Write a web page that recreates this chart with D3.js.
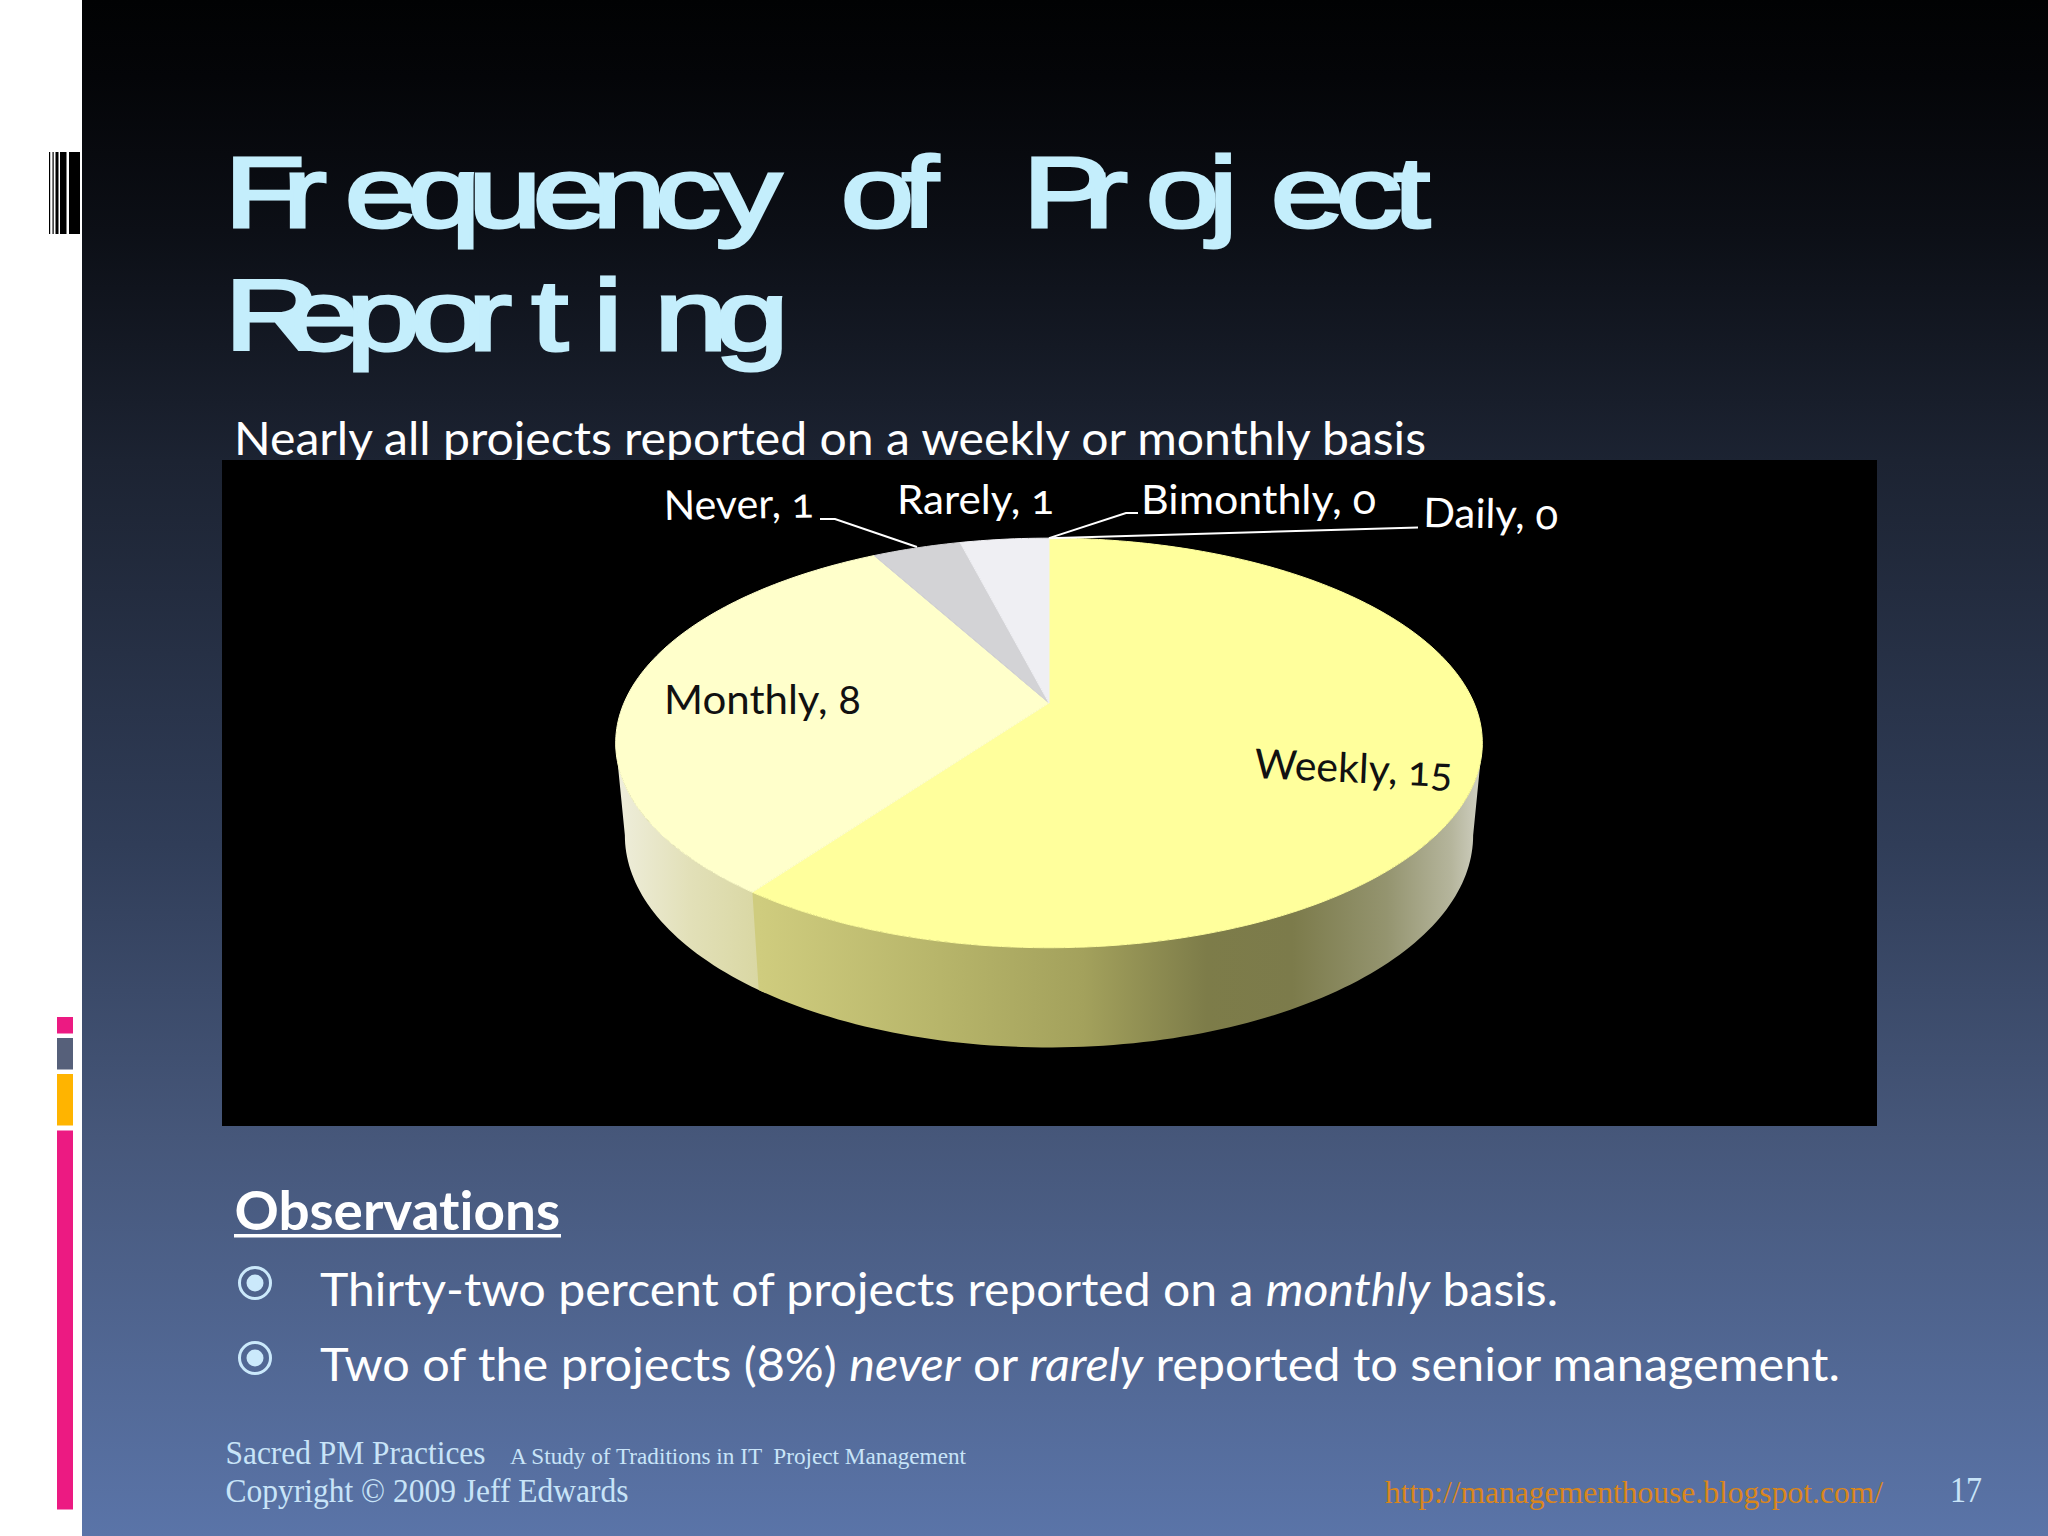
<!DOCTYPE html>
<html>
<head>
<meta charset="utf-8">
<title>Frequency of Project Reporting</title>
<script src="https://cdn.jsdelivr.net/npm/d3@7"></script>
<style>
    html, body { margin: 0; padding: 0; background: #fff; }
    svg { display: block; }
    text { white-space: pre; font-variant-ligatures: none; }
</style>
</head>
<body>
<svg id="canvas" width="2048" height="1536"></svg>
<script>
// Chart values
let categories = ['Bimonthly', 'Daily', 'Weekly', 'Monthly', 'Never', 'Rarely'];
let counts = [0, 0, 15, 8, 1, 1];
let sliceColors = ['#ffff99', '#ffff99', '#ffff9c', '#ffffcb', '#d3d3d6', '#efeff3'];

// Slide text
let titleLines = ['Frequency of Project', 'Reporting'];
let subtitle = 'Nearly all projects reported on a weekly or monthly basis';
let observationsHeading = 'Observations';
let bulletOne = [['Thirty-two percent of projects reported on a ', false], ['monthly', true], [' basis.', false]];
let bulletTwo = [['Two of the projects (8%) ', false], ['never', true], [' or ', false], ['rarely', true], [' reported to senior management.', false]];

let canvas = d3.select('#canvas');
let defs = canvas.append('defs');

let addGradient = (id, x1, x2, y1, y2, stops) => {
    let gradient = defs.append('linearGradient')
        .attr('id', id)
        .attr('gradientUnits', 'userSpaceOnUse')
        .attr('x1', x1).attr('x2', x2)
        .attr('y1', y1).attr('y2', y2);
    stops.forEach((s) => {
        gradient.append('stop').attr('offset', s[0]).attr('stop-color', s[1]);
    });
};

// Background
addGradient('slideBg', 0, 0, 0, 1536, [
    [0, '#010203'], [0.05, '#040508'], [0.15, '#0c0f16'], [0.3, '#1c2332'], [0.55, '#303d58'],
    [0.74, '#46577a'], [1, '#5a74a8']
]);
canvas.append('rect').attr('width', 2048).attr('height', 1536).attr('fill', '#fff');
canvas.append('rect').attr('x', 82).attr('width', 1966).attr('height', 1536).attr('fill', 'url(#slideBg)');

// Left hand decoration
let barcodeBars = [[49, 50.2], [52.5, 53.7], [55.5, 58.5], [60, 66.5], [69, 80]];
canvas.selectAll('.bar').data(barcodeBars).enter().append('rect')
    .attr('class', 'bar')
    .attr('x', (d) => d[0]).attr('y', 152)
    .attr('width', (d) => d[1] - d[0]).attr('height', 82)
    .attr('fill', '#000');

let sideBars = [[1017, 1033.5, '#ec1a82'], [1038, 1069.5, '#56607a'], [1074, 1125.5, '#ffb400'], [1130.5, 1509.5, '#ec1a82']];
canvas.selectAll('.sidebar').data(sideBars).enter().append('rect')
    .attr('class', 'sidebar')
    .attr('x', 57).attr('width', 16)
    .attr('y', (d) => d[0]).attr('height', (d) => d[1] - d[0])
    .attr('fill', (d) => d[2]);

// Title, each glyph placed on its own because the slide's font spacing is odd
let titleStretch = 1.32;
let titleInk = [
    [235, 292, 350, 412, 477, 538, 601, 660, 717, 790, 846, 904, 975, 1033, 1093, 1151, 1206, 1276, 1341, 1396],
    [235, 292, 355, 416, 477, 534, 602, 663, 720]
];
let titleBearing = [
    [8.2, 6.9, 4, 3.7, 6.6, 4, 6.6, 3.7, 1, 0, 4, 1.7, 0, 7.9, 6.9, 4, -2, 4, 3.7, 1.9],
    [7.9, 4, 6.6, 4, 6.9, 1.9, 6.7, 6.6, 3.7]
];
let titleBaselines = [227.5, 350.5];
titleLines.forEach((line, i) => {
    let xs = titleInk[i].map((x, j) => (x / titleStretch - titleBearing[i][j]).toFixed(1));
    canvas.append('text')
        .attr('transform', 'scale(' + titleStretch + ',1)')
        .attr('x', xs.join(' '))
        .attr('y', titleBaselines[i])
        .attr('font-family', 'Liberation Sans')
        .attr('font-size', 100)
        .attr('fill', '#c4eefc')
        .attr('stroke', '#c4eefc')
        .attr('stroke-width', 3)
        .text(line);
});

// Subtitle gets cut off by the black chart box, same as on the slide
canvas.append('text')
    .attr('x', 234).attr('y', 455)
    .attr('font-family', 'Lato').attr('font-size', 46).attr('fill', '#fff')
    .attr('textLength', 1192).attr('lengthAdjust', 'spacingAndGlyphs')
    .text(subtitle);
canvas.append('rect').attr('x', 222).attr('y', 460).attr('width', 1655).attr('height', 666).attr('fill', '#000');

// 3D pie: perspective projection of a circle seen from above
let apexX = 1049;
let apexY = 703;
let tilt = 0.195;
let silhouette = Math.PI / 2 + Math.asin(tilt); // where the rim is widest on screen
let topDisc = { y: apexY, a: 425, b: 197 };
let lowerDisc = { y: 794, a: 416, b: 204 };

let project = (angle, disc) => {
    let u = Math.sin(angle);
    let v = -Math.cos(angle);
    let w = 1 - tilt * v;
    return [apexX + disc.a * u / w, disc.y + disc.b * v / w];
};

let angleSteps = (a0, a1) => {
    let n = Math.max(2, Math.ceil(Math.abs(a1 - a0) / 0.02));
    return d3.range(n + 1).map((i) => a0 + (a1 - a0) * i / n);
};

let linePath = d3.line();
let pie = d3.pie().sort(null).value((d) => d).startAngle(0).endAngle(2 * Math.PI);
let slices = pie(counts);

// Wall, only the two big slices show it
addGradient('wallWeekly', 760, 1480, 0, 0, [
    [0, '#cfcc7e'], [0.25, '#b7b56a'], [0.45, '#a3a15c'], [0.62, '#7d7c49'],
    [0.74, '#7c7b4b'], [0.87, '#94946f'], [0.96, '#b5b59c'], [1, '#cfcfc0']
]);
addGradient('wallMonthly', 620, 760, 0, 0, [
    [0, '#eeedda'], [0.5, '#e2e0b8'], [1, '#d9d7a3']
]);
let weekly = slices[categories.indexOf('Weekly')];
let monthly = slices[categories.indexOf('Monthly')];
let wallPath = (a0, a1) => {
    let steps = angleSteps(a0, a1);
    let upper = steps.map((a) => project(a, topDisc));
    let lower = steps.slice().reverse().map((a) => project(a, lowerDisc));
    return linePath(upper.concat(lower)) + 'Z';
};
// monthly wall runs a little under the weekly one so no seam shows
canvas.append('path').attr('d', wallPath(monthly.startAngle - 0.02, 2 * Math.PI - silhouette)).attr('fill', 'url(#wallMonthly)');
canvas.append('path').attr('d', wallPath(silhouette, weekly.endAngle)).attr('fill', 'url(#wallWeekly)');

// Top surface
canvas.selectAll('.slice').data(slices).enter().append('path')
    .attr('class', 'slice')
    .attr('d', (d) => {
        if (d.endAngle === d.startAngle) return null;
        let rim = angleSteps(d.startAngle, d.endAngle).map((a) => project(a, topDisc));
        return linePath([[apexX, apexY]].concat(rim)) + 'Z';
    })
    .attr('fill', (d, i) => sliceColors[i])
    .attr('stroke', (d, i) => sliceColors[i])
    .attr('stroke-width', 1);

// Leader lines
let rimTop = project(0, topDisc);
let leaders = [
    [[820, 519], [835, 519], [917, 547]],
    [rimTop, [1126, 513], [1138, 513]],
    [rimTop, [1418, 527.5]]
];
canvas.selectAll('.leader').data(leaders).enter().append('path')
    .attr('class', 'leader')
    .attr('d', (d) => linePath(d))
    .attr('fill', 'none')
    .attr('stroke', '#fff')
    .attr('stroke-width', 2);

// Data labels
let labelPlace = {
    Never: { x: 664, y: 520, w: 150, color: '#fff', size: 41, rot: -1 },
    Rarely: { x: 897, y: 514, w: 157, color: '#fff', size: 41, rot: 0 },
    Bimonthly: { x: 1141, y: 514, w: 235, color: '#fff', size: 41, rot: 0 },
    Daily: { x: 1423, y: 527, w: 135, color: '#fff', size: 41, rot: 1 },
    Monthly: { x: 664, y: 714, w: 197, color: '#111', size: 41, rot: 0 },
    Weekly: { x: 1254, y: 778, w: 198, color: '#111', size: 41, rot: 2.6 }
};
categories.forEach((name, i) => {
    let p = labelPlace[name];
    canvas.append('text')
        .attr('transform', 'translate(' + p.x + ',' + p.y + ') rotate(' + p.rot + ')')
        .attr('font-family', 'Lato')
        .attr('font-size', p.size)
        .attr('fill', p.color)
        .attr('textLength', p.w)
        .attr('lengthAdjust', 'spacingAndGlyphs')
        .style('font-variant-numeric', 'oldstyle-nums')
        .text(name + ', ' + counts[i]);
});

// Observations
canvas.append('text')
    .attr('x', 234.5).attr('y', 1230)
    .attr('font-family', 'Lato').attr('font-weight', 700).attr('font-size', 53).attr('fill', '#fff')
    .attr('textLength', 325.5).attr('lengthAdjust', 'spacingAndGlyphs')
    .text(observationsHeading);
canvas.append('rect').attr('x', 234).attr('y', 1234).attr('width', 327).attr('height', 3.5).attr('fill', '#fff');

let drawBullet = (runs, baseline, endX) => {
    let cy = baseline - 23;
    canvas.append('circle').attr('cx', 255).attr('cy', cy).attr('r', 15.5)
        .attr('fill', 'none').attr('stroke', '#cbe9fb').attr('stroke-width', 3);
    canvas.append('circle').attr('cx', 255).attr('cy', cy).attr('r', 8.5).attr('fill', '#cbe9fb');
    let line = canvas.append('text')
        .attr('x', 320).attr('y', baseline)
        .attr('font-family', 'Lato').attr('font-size', 46).attr('fill', '#fff')
        .attr('textLength', endX - 320).attr('lengthAdjust', 'spacingAndGlyphs');
    runs.forEach((run) => {
        line.append('tspan').attr('font-style', run[1] ? 'italic' : 'normal').text(run[0]);
    });
};
drawBullet(bulletOne, 1306, 1558);
drawBullet(bulletTwo, 1381, 1840);

// Footer
let footerText = (txt, x, y, size, width, color) => {
    canvas.append('text')
        .attr('x', x).attr('y', y)
        .attr('font-family', 'Liberation Serif').attr('font-size', size).attr('fill', color)
        .attr('textLength', width).attr('lengthAdjust', 'spacingAndGlyphs')
        .text(txt);
};
footerText('Sacred PM Practices', 225.5, 1464, 33, 260, '#c8e4f8');
footerText('A Study of Traditions in IT  Project Management', 510, 1464, 24, 456, '#c8e4f8');
footerText('Copyright © 2009 Jeff Edwards', 225.5, 1502, 33, 403, '#c8e4f8');
footerText('http://managementhouse.blogspot.com/', 1385, 1503, 32, 498, '#d9861c');
footerText('17', 1950, 1502, 36, 32, '#c8e4f8');
</script>
</body>
</html>
